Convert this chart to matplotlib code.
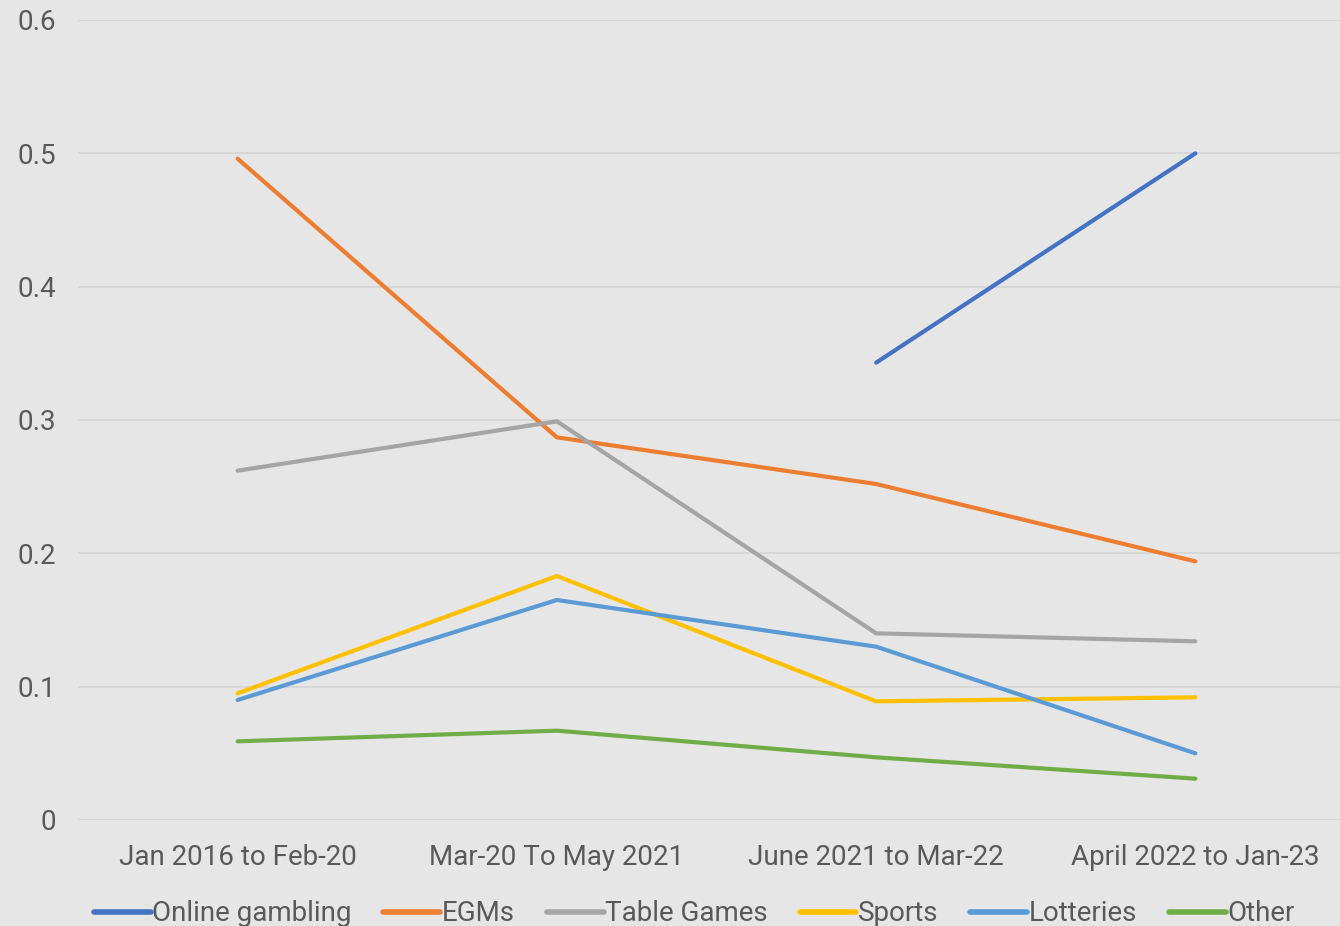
import numpy as np
import matplotlib.pyplot as plt

# periods on the x axis
periods = ['Jan 2016 to Feb-20', 'Mar-20 To May 2021', 'June 2021 to Mar-22', 'April 2022 to Jan-23']

# share by gambling type
online = [np.nan, np.nan, 0.343, 0.500]
egms = [0.496, 0.287, 0.252, 0.194]
table_games = [0.262, 0.299, 0.140, 0.134]
sports = [0.095, 0.183, 0.089, 0.092]
lotteries = [0.090, 0.165, 0.130, 0.050]
other = [0.059, 0.067, 0.047, 0.031]

series = [
    ('Online gambling', online, '#4472C4'),
    ('EGMs', egms, '#ED7D31'),
    ('Table Games', table_games, '#A5A5A5'),
    ('Sports', sports, '#FFC000'),
    ('Lotteries', lotteries, '#5B9BD5'),
    ('Other', other, '#70AD47'),
]

plt.rcParams['font.family'] = ['Roboto', 'DejaVu Sans']
txt = '#595959'

fig = plt.figure(figsize=(13.4, 9.26), dpi=100)
fig.patch.set_facecolor('#E7E6E6')
ax = fig.add_axes([78 / 1340, 1 - 820 / 926, (1355 - 78) / 1340, 800 / 926])
ax.set_facecolor('#E7E6E6')

x = np.arange(len(periods))
for name, vals, col in series:
    ax.plot(x, vals, color=col, lw=3.0, label=name, solid_capstyle='round')

ax.set_xlim(-0.5, 3.5)
ax.set_ylim(0, 0.6)
ax.set_yticks([0, 0.1, 0.2, 0.3, 0.4, 0.5, 0.6])
ax.set_yticklabels(['0', '0.1', '0.2', '0.3', '0.4', '0.5', '0.6'])
ax.set_xticks(x)
ax.set_xticklabels(periods)
ax.tick_params(axis='both', length=0, colors=txt, labelsize=20)
ax.tick_params(axis='y', pad=16)
ax.tick_params(axis='x', pad=17)
ax.grid(axis='y', color='#D6D6D6', lw=1.3)
ax.set_axisbelow(True)
for s in ax.spines.values():
    s.set_visible(False)

leg = fig.legend(loc='center', bbox_to_anchor=(0.518, 0.013), ncol=6, frameon=False,
                 fontsize=20, handlelength=2.05, handletextpad=0.05, columnspacing=1.15)
for t in leg.get_texts():
    t.set_color(txt)
for h in leg.get_lines():
    h.set_linewidth(4)

fig.savefig('out.png', dpi=100, facecolor=fig.get_facecolor())
